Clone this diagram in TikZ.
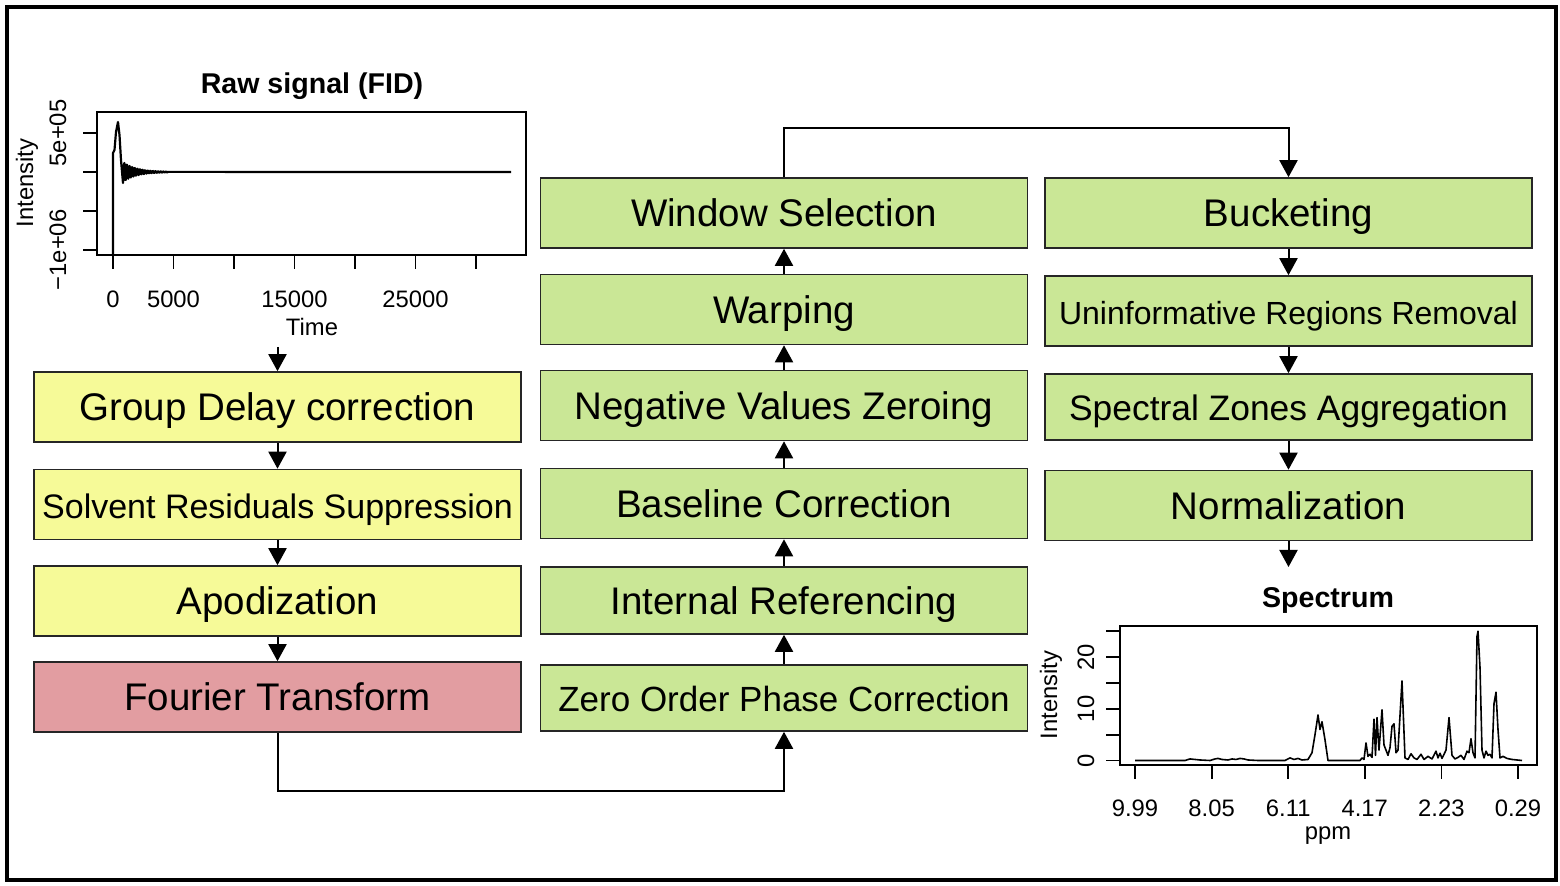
\documentclass[tikz,border=0pt]{standalone}
\usepackage{fontspec}
\setmainfont{Liberation Sans}
\usetikzlibrary{arrows.meta}
\definecolor{yel}{RGB}{246,250,152}
\definecolor{grn}{RGB}{202,231,150}
\definecolor{pnk}{RGB}{226,157,161}
\begin{document}
\begin{tikzpicture}[x=0.5pt,y=-0.5pt,
  box/.style={draw=black!85, line width=0.8pt, minimum width=243.5pt, minimum height=35pt,
    inner sep=0pt, text height=13.8pt, text depth=0pt, font=\fontsize{19.25}{22}\selectfont},
  yb/.style={box, fill=yel}, gb/.style={box, fill=grn}, pb/.style={box, fill=pnk},
  arr/.style={line width=1pt, -{Triangle[width=9pt,length=8.5pt]}},
  lab/.style={font=\fontsize{11.9}{14}\selectfont, inner sep=0pt},
  ttl/.style={font=\bfseries\fontsize{14.3}{17}\selectfont, inner sep=0pt},
  axl/.style={line width=0.9pt},
  sig/.style={line width=0.8pt, line join=round}]
\useasboundingbox (0,0) rectangle (1560,886);
\draw[line width=1.6pt] (7,7) rectangle (1556,880);

% left column
\node[yb] (gd) at (277.5,407) {Group Delay correction};
\node[yb, font=\fontsize{17}{20}\selectfont] (sr) at (277.5,504.5) {Solvent Residuals Suppression};
\node[yb] (ap) at (277.5,601) {Apodization};
\node[pb] (ft) at (277.5,697) {Fourier Transform};
% middle column
\node[gb] (ws) at (784,213) {Window Selection};
\node[gb] (wp) at (784,309.5) {Warping};
\node[gb] (nv) at (784,405.5) {Negative Values Zeroing};
\node[gb] (bc) at (784,503.5) {Baseline Correction};
\node[gb, minimum height=33.5pt] (ir) at (784,600.5) {Internal Referencing};
\node[gb, minimum height=33pt, font=\fontsize{17.5}{20}\selectfont] (zo) at (784,698) {Zero Order Phase Correction};
% right column
\node[gb] (bu) at (1288.5,213) {Bucketing};
\node[gb, font=\fontsize{16}{19}\selectfont] (ur) at (1288.5,311) {Uninformative Regions Removal};
\node[gb, minimum height=33pt, font=\fontsize{17.7}{20}\selectfont] (sz) at (1288.5,407) {Spectral Zones Aggregation};
\node[gb] (no) at (1288.5,505.5) {Normalization};

% connectors
\coordinate (rawout) at (277.5,347);
\coordinate (specin) at (1288.5,567);
\draw[arr] (rawout) -- (gd.north);
\draw[arr] (gd.south) -- (sr.north);
\draw[arr] (sr.south) -- (ap.north);
\draw[arr] (ap.south) -- (ft.north);
\draw[arr] (ft.south) -- ++(0,58) -| (zo.south);
\draw[arr] (zo.north) -- (ir.south);
\draw[arr] (ir.north) -- (bc.south);
\draw[arr] (bc.north) -- (nv.south);
\draw[arr] (nv.north) -- (wp.south);
\draw[arr] (wp.north) -- (ws.south);
\draw[arr] (ws.north) -- ++(0,-49) -| (bu.north);
\draw[arr] (bu.south) -- (ur.north);
\draw[arr] (ur.south) -- (sz.north);
\draw[arr] (sz.south) -- (no.north);
\draw[arr] (no.south) -- (specin);

% ---------- Raw signal plot ----------
\node[ttl, anchor=base] (fidt) at (312,94) {Raw signal (FID)};
\draw[axl] (97,112) rectangle (526,255);
\foreach \t in {113,173.5,234,294.5,355,415.5,476} \draw[axl] (\t,255) -- (\t,269);
\foreach \t in {133,172,211,250} \draw[axl] (97,\t) -- (83,\t);
\node[lab] (fx0) at (113,299) {0};
\node[lab] (fx1) at (173.5,299) {5000};
\node[lab] (fx2) at (294.5,299) {15000};
\node[lab] (fx3) at (415.5,299) {25000};
\node[lab] (fxl) at (312,327) {Time};
\node[lab, rotate=90] (fy1) at (58,133) {5e+05};
\node[lab, rotate=90] (fy2) at (58,250) {−1e+06};
\node[lab, rotate=90] (fyl) at (27,183) {Intensity};
\draw[sig, line width=1.1pt] (113,255) -- (113,153) -- (114.5,150) -- (116,132) -- (118,122) -- (119.5,135) -- (121,160) -- (123,183)
  -- plot[domain=123:168, samples=200] (\x, {172 + 10*exp(-(\x-123)/13)*cos(360*(\x-123)/2.6)})
  -- (511,172);

% ---------- Spectrum plot ----------
\node[ttl, anchor=base] (spt) at (1328,608) {Spectrum};
\draw[axl] (1120,626) rectangle (1537,765);
\foreach \t in {1135,1211.6,1288.2,1364.8,1441.4,1518} \draw[axl] (\t,765) -- (\t,779);
\foreach \v in {0,5,...,25} \draw[axl] (1120,{760.5-5.17*\v}) -- (1106,{760.5-5.17*\v});
\node[lab] (sx0) at (1135,808) {9.99};
\node[lab] (sx1) at (1211.6,808) {8.05};
\node[lab] (sx2) at (1288.2,808) {6.11};
\node[lab] (sx3) at (1364.8,808) {4.17};
\node[lab] (sx4) at (1441.4,808) {2.23};
\node[lab] (sx5) at (1518,808) {0.29};
\node[lab, anchor=base] (sxl) at (1328,840) {ppm};
\node[lab, rotate=90] (sy0) at (1086,760.5) {0};
\node[lab, rotate=90] (sy1) at (1086,708.8) {10};
\node[lab, rotate=90] (sy2) at (1086,657.1) {20};
\node[lab, rotate=90] (syl) at (1051,695) {Intensity};
\begin{scope}[shift={(0,760.5)}, y=2.585pt]
\draw[sig] (1135,0) -- (1185,0) -- (1190,0.3) -- (1195,0.2) -- (1200,0.1) -- (1210,0)
 -- (1215,0.3) -- (1218,0.4) -- (1222,0.2) -- (1228,0.1) -- (1232,0.3) -- (1236,0.2)
 -- (1240,0.4) -- (1244,0.3) -- (1248,0.1) -- (1258,0) -- (1285,0) -- (1290,0.5)
 -- (1294,0.2) -- (1298,0.4) -- (1302,0.1) -- (1308,0.2) -- (1312,1.5) -- (1315,5)
 -- (1318,8.8) -- (1320,6) -- (1322,7.5) -- (1325,4) -- (1328,0) -- (1360,0)
 -- (1362,0.5) -- (1364,0.2) -- (1366,3.4) -- (1368,0.8) -- (1370,1.2) -- (1372,0.6)
 -- (1374,8) -- (1375.5,1) -- (1377,8.3) -- (1379,2) -- (1382,9.8) -- (1384,3)
 -- (1386,2) -- (1388,1) -- (1390,2.5) -- (1392,6.6) -- (1394,7.1) -- (1396,1.5)
 -- (1398,2) -- (1402,15.4) -- (1405,0.5) -- (1408,0.2) -- (1411,1.3) -- (1414,0.5)
 -- (1417,0.2) -- (1421,1.2) -- (1424,0.2) -- (1428,0.8) -- (1432,0.3) -- (1436,1.8)
 -- (1438,0.5) -- (1440,1.4) -- (1442,0.4) -- (1446,2) -- (1449,8.3) -- (1452,1)
 -- (1455,0.3) -- (1458,0.6) -- (1461,1) -- (1464,0.2) -- (1467,1.8) -- (1469,1.5)
 -- (1471,4.2) -- (1473,1.5) -- (1475,0.5) -- (1477,24) -- (1478,25) -- (1480,18)
 -- (1482,2) -- (1484,0.5) -- (1486,1.8) -- (1488,1) -- (1490,1.2) -- (1492,0.5)
 -- (1494,11) -- (1496,13.2) -- (1498,6) -- (1500,0.5) -- (1503,0.8) -- (1507,0.4)
 -- (1512,0.2) -- (1522,0);
\end{scope}
\end{tikzpicture}
\end{document}
